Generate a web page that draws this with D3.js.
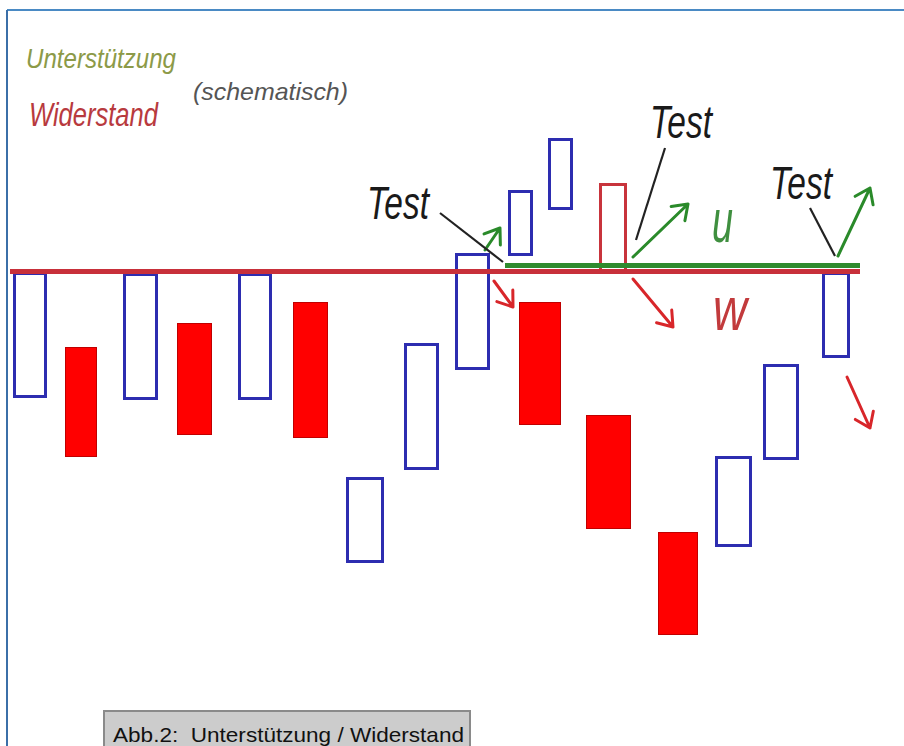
<!DOCTYPE html>
<html>
<head>
<meta charset="utf-8">
<script src="https://cdn.jsdelivr.net/npm/d3@7"></script>
<style>
    body { margin: 0; background: #fff; }
    svg { display: block; }
    text { font-family: "Liberation Sans", Arial, sans-serif; }
</style>
</head>
<body>
<div id="root"></div>
<script>
// schematic candles: time span (t0, t1), open / close price, kind
const candleSpan = [
    [1.3, 4.7], [6.5, 9.7], [12.3, 15.8], [17.7, 21.2], [23.8, 27.2], [29.3, 32.8],
    [34.6, 38.4], [40.4, 43.9], [45.5, 49.0], [50.8, 53.3], [54.8, 57.3], [59.9, 62.7],
    [51.9, 56.1], [58.6, 63.1], [65.8, 69.8], [71.5, 75.2], [76.3, 79.9], [82.2, 85.0]
]
const candleOpen  = [74.7, 84.9, 74.3, 89.7, 74.3, 93.9, 41.7, 60.3, 80.3, 103.1, 112.3, 99.9, 93.9, 71.3, 47.9, 44.9, 62.3, 82.7]
const candleClose = [99.9, 62.9, 99.7, 67.3, 99.7, 66.7, 58.9, 85.7, 103.7, 116.3, 126.7, 117.7, 69.3, 48.5, 27.3, 63.1, 81.5, 99.9]
const candleKind  = ["up", "down", "up", "down", "up", "down", "up", "up", "up", "up", "up", "test",
                     "down", "down", "down", "up", "up", "up"]

// support / resistance levels
const levelNames = ["Unterstützung", "Widerstand"]
const levelValue = [101.2, 100]
const levelSpan  = [[50.5, 86.0], [1.0, 86.0]]

// breakout arrows: [t, p] -> [t, p]
const arrowFrom = [[48.5, 104.3], [49.4, 98.1], [63.3, 102.9], [63.3, 98.5], [83.8, 103.1], [84.7, 78.9]]
const arrowTo   = [[50.0, 108.7], [51.3, 92.9], [68.8, 113.5], [67.3, 88.9], [87.0, 116.7], [87.0, 68.7]]
const arrowKind = ["up", "down", "up", "down", "up", "down"]

// "Test" labels and their pointer lines
const testAt      = [[36.7, 110.5], [65.0, 126.7], [77.0, 114.5]]
const pointerFrom = [[44.0, 111.7], [66.5, 124.7], [81.0, 112.7]]
const pointerTo   = [[50.3, 101.9], [63.6, 106.3], [83.5, 103.1]]

// level letters
const letterText = ["u", "w"]
const letterAt   = [[71.2, 105.9], [71.3, 88.3]]

const caption = "Abb.2:  Unterstützung / Widerstand"

const W = 904, H = 746
const colors = {
    up: "#2d2db0", down: "#ff0000", test: "#c8343c",
    support: "#2e8b2e", resist: "#c8303a", arrowUp: "#2a8a2a", arrowDown: "#d8262a"
}

// small helper for setting several attributes at once
const attrs = (sel, o) => { Object.keys(o).forEach(k => sel.attr(k, o[k])); return sel }

const svg = d3.select("#root").append("svg").attr("width", W).attr("height", H)

const x = d3.scaleLinear().domain([0, 90.4]).range([0, 904])
const y = d3.scaleLinear().domain([20, 130]).range([671.5, 121.5])

// frame
attrs(svg.append("line"), {x1: 7, x2: W, y1: 10, y2: 10, stroke: "#4a8ac4", "stroke-width": 2})
attrs(svg.append("line"), {x1: 7, x2: 7, y1: 10, y2: H, stroke: "#3b6fa8", "stroke-width": 2})

// candles
const candles = d3.range(candleSpan.length).map(i => ({
    t0: candleSpan[i][0], t1: candleSpan[i][1],
    hi: Math.max(candleOpen[i], candleClose[i]), lo: Math.min(candleOpen[i], candleClose[i]),
    kind: candleKind[i]
}))

svg.append("g").selectAll("rect")
    .data(candles)
    .join("rect")
    .attr("x", d => x(d.t0) + (d.kind === "down" ? 0.5 : 1.5))
    .attr("y", d => y(d.hi) + (d.kind === "down" ? 0.5 : 1.5))
    .attr("width", d => x(d.t1) - x(d.t0) - (d.kind === "down" ? 1 : 3))
    .attr("height", d => y(d.lo) - y(d.hi) - (d.kind === "down" ? 1 : 3))
    .attr("fill", d => d.kind === "down" ? colors.down : "none")
    .attr("stroke", d => d.kind === "down" ? "#c00000" : colors[d.kind])
    .attr("stroke-width", d => d.kind === "down" ? 1 : 3)

// levels
svg.append("g").selectAll("line")
    .data(levelNames)
    .join("line")
    .attr("x1", (d, i) => x(levelSpan[i][0]))
    .attr("x2", (d, i) => x(levelSpan[i][1]))
    .attr("y1", (d, i) => y(levelValue[i]))
    .attr("y2", (d, i) => y(levelValue[i]))
    .attr("stroke", (d, i) => i === 0 ? colors.support : colors.resist)
    .attr("stroke-width", 5)

// arrows with open heads
function arrowPath (a, b) {
    const x0 = x(a[0]), y0 = y(a[1]), x1 = x(b[0]), y1 = y(b[1])
    const ang = Math.atan2(y1 - y0, x1 - x0), len = 17, spread = 0.62
    const p = d3.path()
    p.moveTo(x0, y0); p.lineTo(x1, y1)
    p.moveTo(x1 - len * Math.cos(ang - spread), y1 - len * Math.sin(ang - spread)); p.lineTo(x1, y1)
    p.lineTo(x1 - len * Math.cos(ang + spread), y1 - len * Math.sin(ang + spread))
    return p.toString()
}

svg.append("g").selectAll("path")
    .data(arrowKind)
    .join("path")
    .attr("d", (d, i) => arrowPath(arrowFrom[i], arrowTo[i]))
    .attr("fill", "none")
    .attr("stroke", d => d === "up" ? colors.arrowUp : colors.arrowDown)
    .attr("stroke-width", 3)
    .attr("stroke-linecap", "round")
    .attr("stroke-linejoin", "round")

// test pointers + labels
svg.append("g").selectAll("line")
    .data(pointerFrom)
    .join("line")
    .attr("x1", d => x(d[0])).attr("y1", d => y(d[1]))
    .attr("x2", (d, i) => x(pointerTo[i][0])).attr("y2", (d, i) => y(pointerTo[i][1]))
    .attr("stroke", "#222").attr("stroke-width", 2.2)

svg.append("g").selectAll("text")
    .data(testAt)
    .join("text")
    .attr("x", d => x(d[0])).attr("y", d => y(d[1]))
    .attr("font-size", 46).attr("font-style", "italic").attr("fill", "#1a1a1a")
    .attr("textLength", 62).attr("lengthAdjust", "spacingAndGlyphs")
    .text("Test")

svg.append("g").selectAll("text")
    .data(letterText)
    .join("text")
    .attr("x", (d, i) => x(letterAt[i][0])).attr("y", (d, i) => y(letterAt[i][1]))
    .attr("font-size", 62).attr("font-style", "italic")
    .attr("fill", (d, i) => i === 0 ? "#3f8f3f" : "#c23a3c")
    .attr("textLength", (d, i) => i === 0 ? 21 : 34).attr("lengthAdjust", "spacingAndGlyphs")
    .text(d => d)

// legend
const legend = svg.append("g")
attrs(legend.append("text"), {x: 26, y: 68, "font-size": 27, "font-style": "italic", fill: "#8c9a48",
    textLength: 150, lengthAdjust: "spacingAndGlyphs"}).text(levelNames[0])
attrs(legend.append("text"), {x: 29, y: 126, "font-size": 34, "font-style": "italic", fill: "#b83a3e",
    textLength: 129, lengthAdjust: "spacingAndGlyphs"}).text(levelNames[1])
attrs(legend.append("text"), {x: 193, y: 100, "font-size": 24, "font-style": "italic", fill: "#555",
    textLength: 155, lengthAdjust: "spacingAndGlyphs"}).text("(schematisch)")

// caption box
attrs(svg.append("rect"), {x: 104, y: 711, width: 366, height: 50,
    fill: "#cccccc", stroke: "#8a8a8a", "stroke-width": 2})
attrs(svg.append("text"), {x: 113, y: 742, "font-size": 21, fill: "#111",
    textLength: 351, lengthAdjust: "spacingAndGlyphs"})
    .style("white-space", "pre")
    .text(caption)
</script>
</body>
</html>
